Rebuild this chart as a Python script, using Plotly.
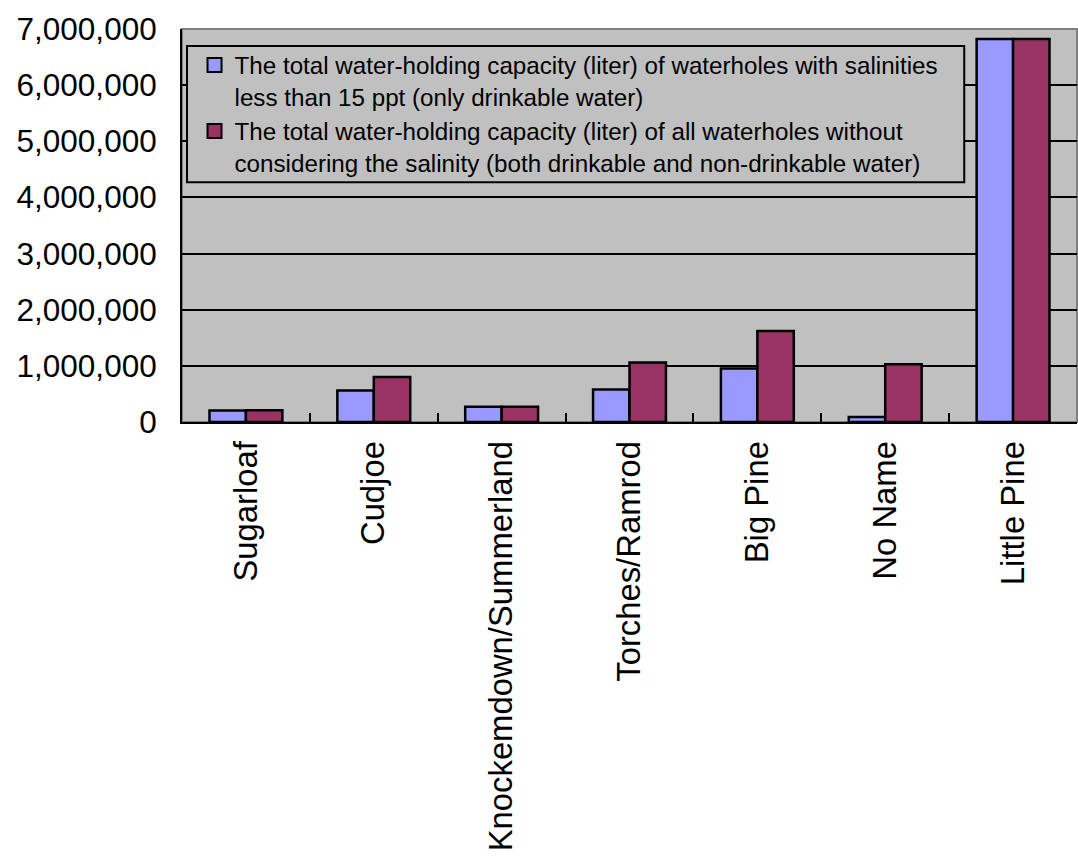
import plotly.graph_objects as go

# Waterhole capacity by island group
islands = ["Sugarloaf", "Cudjoe", "Knockemdown/Summerland", "Torches/Ramrod",
           "Big Pine", "No Name", "Little Pine"]
drinkable_liters = [205000, 560000, 272000, 580000, 955000, 90000, 6820000]
all_liters = [210000, 800000, 272000, 1060000, 1620000, 1030000, 6820000]

series_names = [
    "The total water-holding capacity (liter) of waterholes with salinities<br>"
    "less than 15 ppt (only drinkable water)",
    "The total water-holding capacity (liter) of all waterholes without<br>"
    "considering the salinity (both drinkable and non-drinkable water)",
]
series_colors = ["#9999FF", "#993366"]
y_ticks = [0, 1000000, 2000000, 3000000, 4000000, 5000000, 6000000, 7000000]

FONT = "Arial, Liberation Sans, sans-serif"

fig = go.Figure()
for vals, name, color in zip([drinkable_liters, all_liters], series_names, series_colors):
    fig.add_trace(go.Bar(
        x=islands, y=vals, name=name, showlegend=False, legendgroup=name,
        marker=dict(color=color, line=dict(color="black", width=2.5)),
    ))

# square legend keys with a black outline
for name, color in zip(series_names, series_colors):
    fig.add_trace(go.Scatter(
        x=[None], y=[None], mode="markers", name=name, legendgroup=name,
        marker=dict(symbol="square", size=14, color=color,
                    line=dict(color="black", width=2)),
    ))

# plot frame (grey top/right edge) and the legend's box
fig.add_shape(type="rect", xref="paper", yref="paper", x0=0, x1=1, y0=0, y1=1,
              line=dict(color="#808080", width=2), layer="below")
fig.add_shape(type="rect", xref="paper", yref="paper",
              x0=0.0056, x1=0.874, y0=0.61, y1=0.957,
              fillcolor="#C0C0C0", line=dict(color="black", width=2), layer="above")

fig.update_layout(
    width=1078, height=857,
    margin=dict(l=182, r=1, t=29, b=435),
    paper_bgcolor="white",
    plot_bgcolor="#C0C0C0",
    barmode="group",
    bargap=0.43,
    bargroupgap=0,
    font=dict(family=FONT, color="black"),
    showlegend=True,
    legend=dict(
        x=0.014, y=0.965, xanchor="left", yanchor="top",
        bgcolor="rgba(0,0,0,0)", borderwidth=0,
        font=dict(family=FONT, size=24.2, color="black"),
        tracegroupgap=0,
        itemwidth=30,
        valign="top",
        itemsizing="trace",
    ),
    xaxis=dict(
        type="category",
        tickangle=-90,
        tickfont=dict(family=FONT, size=32.8, color="black"),
        ticks="inside", ticklen=9, tickwidth=2, tickcolor="black",
        tickson="boundaries",
        showline=True, linecolor="black", linewidth=2,
        showgrid=False,
        ticklabelstandoff=4,
    ),
    yaxis=dict(
        range=[0, 7000000],
        tickvals=y_ticks,
        tickformat=",d",
        tickfont=dict(family=FONT, size=31.5, color="black"),
        ticks="inside", ticklen=9, tickwidth=2, tickcolor="black",
        showline=True, linecolor="black", linewidth=2,
        showgrid=True, gridcolor="black", gridwidth=2,
        zeroline=False,
        ticklabelstandoff=17,
    ),
)

fig.write_html("out.html")
